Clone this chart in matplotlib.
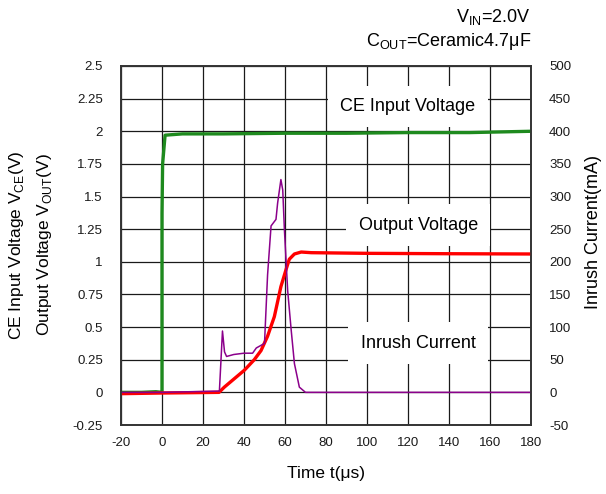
import numpy as np
import matplotlib
matplotlib.use("Agg")
import matplotlib.pyplot as plt

plt.rcParams['font.family'] = ['Liberation Sans', 'DejaVu Sans']
plt.rcParams['mathtext.fontset'] = 'custom'
plt.rcParams['mathtext.rm'] = 'Liberation Sans'
plt.rcParams['axes.unicode_minus'] = False

# CE input voltage (V)
t_ce = [-20, -10, -3, 0, 0, 0.3, 1.5, 10, 30, 60, 90, 120, 150, 180]
v_ce = [0.0, 0.0, 0.005, 0.0, 1.37, 1.75, 1.97, 1.98, 1.98, 1.985, 1.985, 1.99, 1.99, 2.0]

# output voltage (V)
t_out = [-20, 0, 27.8, 30.4, 35.3, 40.2, 45.0, 48.3, 51.5, 54.8, 58.0, 60.5, 62.1,
         64.6, 67.9, 72.8, 100, 140, 180]
v_out = [-0.01, -0.005, 0.0, 0.04, 0.105, 0.17, 0.25, 0.32, 0.43, 0.58, 0.81, 0.94, 1.02,
         1.06, 1.075, 1.07, 1.065, 1.062, 1.06]

# inrush current (mA)
t_in = [-20, 0, 28.0, 29.5, 30.5, 31.5, 35, 40, 44.2, 46, 50, 51.5, 53.2, 55.6, 56.4,
        58.0, 58.9, 59.7, 61.3, 63.0, 64.6, 67.0, 70, 90, 120, 150, 180]
i_in = [0, 0, 2, 94, 62, 55, 58, 60, 60, 68, 75, 180, 255, 265, 290,
        326, 310, 250, 156, 96, 44, 8, 0, 0, 0, 0, 0]

x_ticks = np.arange(-20, 181, 20)
y_ticks = np.arange(-0.25, 2.51, 0.25)
y_labels = ['-0.25', '0', '0.25', '0.5', '0.75', '1', '1.25', '1.5', '1.75', '2', '2.25', '2.5']
i_ticks = np.arange(-50, 501, 50)

fig = plt.figure(figsize=(6.06, 4.94), dpi=100)
ax = fig.add_axes([121 / 606, 1 - 425 / 494, 410 / 606, 359 / 494])
ax2 = ax.twinx()

ax.set_xlim(-20, 180)
ax.set_ylim(-0.25, 2.5)
ax2.set_ylim(-50, 500)

ax.set_xticks(x_ticks)
ax.set_yticks(y_ticks)
ax.set_yticklabels(y_labels)
ax2.set_yticks(i_ticks)
ax.grid(True, color='#1a1a1a', lw=0.9)
ax.tick_params(axis='both', length=0, labelsize=9.5, colors='#1a1a1a')
ax.tick_params(axis='y', pad=13)
ax.tick_params(axis='x', pad=9)
ax2.tick_params(axis='y', length=0, labelsize=9.5, pad=13, colors='#1a1a1a')
for a in (ax, ax2):
    for s in a.spines.values():
        s.set_color('#333333')
        s.set_linewidth(1.2)

ax.plot(t_ce, v_ce, color='#1e8a1e', lw=2.4, zorder=3)
ax.plot(t_out, v_out, color='#ff0000', lw=2.4, zorder=4)
ax2.plot(t_in, i_in, color='#8b008b', lw=1.1)

box = dict(facecolor='white', edgecolor='none', pad=9)
ax.text(120, 2.19, 'CE Input Voltage', fontsize=13, ha='center', va='center', bbox=box, zorder=5)
ax.text(125, 1.28, 'Output Voltage', fontsize=13, ha='center', va='center', bbox=box, zorder=5)
ax.text(125, 0.375, 'Inrush Current', fontsize=13, ha='center', va='center', bbox=box, zorder=5)

ax.set_xlabel('Time t(μs)', fontsize=12.5, labelpad=12)
fig.text(17 / 606, 1 - 245 / 494, r'CE Input Voltage V$_{\mathregular{CE}}$(V)',
         rotation=90, ha='center', va='center', fontsize=12.5)
fig.text(45 / 606, 1 - 245 / 494, r'Output Voltage V$_{\mathregular{OUT}}$(V)',
         rotation=90, ha='center', va='center', fontsize=12.5)
fig.text(594 / 606, 1 - 232 / 494, 'Inrush Current(mA)',
         rotation=90, ha='center', va='center', fontsize=13)

fig.text(531 / 606, 1 - 17 / 494, r'V$_{\mathregular{IN}}$=2.0V', ha='right', va='center', fontsize=13)
fig.text(531 / 606, 1 - 42 / 494, r'C$_{\mathregular{OUT}}$=Ceramic4.7μF', ha='right', va='center', fontsize=13)

fig.savefig('out.png', dpi=100)
